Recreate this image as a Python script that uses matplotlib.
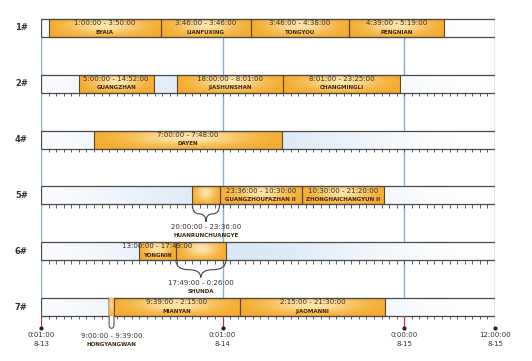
import numpy as np
import matplotlib.pyplot as plt
from matplotlib.path import Path
from matplotlib.patches import PathPatch, Rectangle
from matplotlib.colors import to_rgb

# rows (berths) and the hours (from 8-13 0:00) of every occupied slot
rows = ['1#', '2#', '4#', '5#', '6#', '7#']

bar_row = [0, 0, 0, 0, 1, 1, 1, 2, 3, 3, 3, 4, 4, 5, 5, 5]
bar_start = [1.0, 15.83, 27.77, 40.65, 5.0, 18.0, 32.02, 7.0,
             20.0, 23.6, 34.5, 13.0, 17.82, 9.0, 9.65, 26.25]
bar_end = [15.83, 27.77, 40.65, 53.32, 14.87, 32.02, 47.42, 31.8,
           23.6, 34.5, 45.33, 17.82, 24.43, 9.65, 26.25, 45.5]
bar_time = ['1:00:00 - 3:50:00', '3:46:00 - 3:46:00', '3:46:00 - 4:38:00', '4:39:00 - 5:19:00',
            '5:00:00 - 14:52:00', '18:00:00 - 8:01:00', '8:01:00 - 23:25:00',
            '7:00:00 - 7:48:00',
            '20:00:00 - 23:36:00', '23:36:00 - 10:30:00', '10:30:00 - 21:20:00',
            '13:00:00 - 17:49:00', '17:49:00 - 0:26:00',
            '9:00:00 - 9:39:00', '9:39:00 - 2:15:00', '2:15:00 - 21:30:00']
bar_name = ['BYAIA', 'LIANFUXING', 'TONGYOU', 'PENGNIAN',
            'GUANGZHAN', 'JIASHUNSHAN', 'CHANGMINGLI',
            'DAYEN',
            'HUANRUNCHUANGYE', 'GUANGZHOUFAZHAN II', 'ZHONGHAICHANGYUN II',
            'YONGNIN', 'SHUNDA',
            'HONGYANGWAN', 'MIANYAN', 'JIAOMANNI']
# where the label goes: inside the bar, under a brace, or under a tab
bar_label = ['in'] * 8 + ['brace', 'in', 'in', 'in', 'brace', 'tab', 'in', 'in']

axis_hours = [0, 24, 48, 60]
axis_times = ['0:01:00', '0:01:00', '0:00:00', '12:00:00']
axis_dates = ['8-13', '8-14', '8-15', '8-15']

fig = plt.figure(figsize=(5.32, 3.61), dpi=100)
ax = fig.add_axes([41 / 532, 0, 454 / 532, 1])
ax.axis('off')

hh = 0.161
c_orange = np.array(to_rgb('#f4a92a'))
c_pale = np.array(to_rgb('#fde6ad'))
c_white = np.array(to_rgb('#ffffff'))
c_blue = np.array(to_rgb('#dae8f6'))

# row backgrounds
hx = np.linspace(0, 60, 200)
wb = np.exp(-((hx - 26) / 18) ** 2)
bg = (c_white[None, :] * (1 - wb[:, None]) + c_blue[None, :] * wb[:, None])[None, :, :]
for i in range(len(rows)):
    ax.imshow(bg, extent=(0, 60, i + hh, i - hh), aspect='auto',
              interpolation='bilinear', zorder=1)

# blue day lines
ax.vlines(axis_hours, -hh, len(rows) - 1 + hh, color='#86afd4', lw=1.0, zorder=0.5)

# orange fill for the bars
u = np.linspace(0, 1, 40)
v = np.linspace(0, 1, 16)
U, V = np.meshgrid(u, v)
W = np.exp(-((U - 0.5) / 0.32) ** 2 - ((V - 0.35) / 0.5) ** 2)
grad = c_orange[None, None, :] * (1 - W[..., None]) + c_pale[None, None, :] * W[..., None]

for r, s, e, t, n, lab in zip(bar_row, bar_start, bar_end, bar_time, bar_name, bar_label):
    xc = (s + e) / 2
    if lab == 'tab':
        # narrow slot: outline drops below the row like a tab
        yb = r + hh + 0.22
        verts = [(s, r - hh), (s, yb - 0.06), (s, yb), (xc, yb),
                 (e, yb), (e, yb - 0.06), (e, r - hh)]
        codes = [Path.MOVETO, Path.LINETO, Path.CURVE3, Path.CURVE3,
                 Path.CURVE3, Path.CURVE3, Path.LINETO]
        ax.add_patch(PathPatch(Path(verts, codes), fc='white', ec='#555555',
                               lw=0.8, zorder=5))
        ax.imshow(grad, extent=(s, e, r + hh, r - hh), aspect='auto',
                  interpolation='bilinear', zorder=5.5)
        ty = yb + 0.14
    else:
        ax.imshow(grad, extent=(s, e, r + hh, r - hh), aspect='auto',
                  interpolation='bilinear', zorder=2)
        ax.add_patch(Rectangle((s, r - hh), e - s, 2 * hh, fill=False,
                               ec='#5b4726', lw=0.8, zorder=3))
    if lab == 'in':
        ax.text(xc, r - 0.085, t, ha='center', va='center', fontsize=5,
                color='#333333', zorder=6)
        ax.text(xc, r + 0.075, n, ha='center', va='center', fontsize=4,
                fontweight='bold', color='#3a2a10', zorder=6)
        continue
    if lab == 'brace':
        y0 = r + hh
        ym = y0 + 0.17
        yt = y0 + 0.31
        k = 0.25 * (e - s)
        verts = [(s, y0), (s, ym), (s + k, ym),
                 (xc - k, ym), (xc, ym), (xc, yt),
                 (xc, ym), (e - k, ym),
                 (e - k, ym), (e, ym), (e, y0)]
        codes = [Path.MOVETO, Path.CURVE3, Path.CURVE3,
                 Path.LINETO, Path.CURVE3, Path.CURVE3,
                 Path.CURVE3, Path.CURVE3,
                 Path.LINETO, Path.CURVE3, Path.CURVE3]
        ax.add_patch(PathPatch(Path(verts, codes), fill=False, ec='#444444',
                               lw=0.8, zorder=5))
        ty = yt + 0.09
    ax.text(xc, ty, t, ha='center', va='center', fontsize=5,
            color='#333333', zorder=6)
    ax.text(xc, ty + 0.155, n, ha='center', va='center', fontsize=4,
            fontweight='bold', color='#3a2a10', zorder=6)

# row boxes, row labels and hour ticks
for i, name in enumerate(rows):
    ax.add_patch(Rectangle((0, i - hh), 60, 2 * hh, fill=False,
                           ec='#4a4a4a', lw=0.9, zorder=4))
    ax.text(-2.6, i, name, ha='center', va='center', fontsize=6,
            fontweight='bold', color='#333333')
    if i > 0:
        ax.vlines(np.arange(1, 60), i + hh, i + hh + 0.06, color='#444444',
                  lw=0.6, zorder=4)

# bottom time axis
yb = len(rows) - 1 + hh
ax.vlines(axis_hours, yb, yb + 0.21, color='#cc3333', lw=0.9, zorder=4)
ax.plot(axis_hours, [yb + 0.21] * len(axis_hours), 'o', color='#222222',
        ms=2, zorder=5, clip_on=False)
for h, t, d in zip(axis_hours, axis_times, axis_dates):
    ax.text(h, 5.50, t, ha='center', va='center', fontsize=5, color='#333333')
    ax.text(h, 5.66, d, ha='center', va='center', fontsize=5, color='#333333')

ax.set_xlim(0, 60)
ax.set_ylim((361 - 28) / 55.8, -28 / 55.8)

fig.savefig('out.png', dpi=100)
